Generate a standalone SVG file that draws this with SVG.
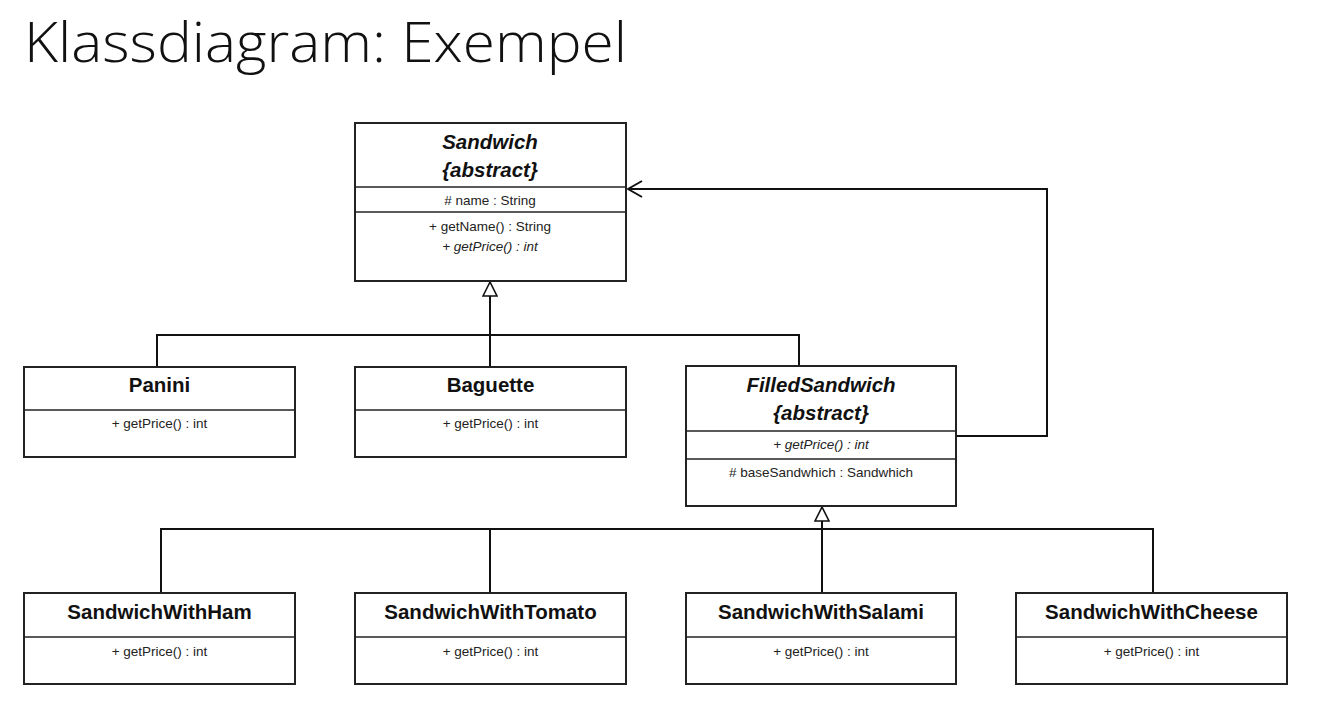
<svg xmlns="http://www.w3.org/2000/svg" width="1327" height="704" viewBox="0 0 1327 704">
<defs>
<style>
.box{fill:#fff;stroke:#222;stroke-width:2}
.div{stroke:#222;stroke-width:1.6}
.ln{fill:none;stroke:#111;stroke-width:2}
.nm{font-family:"Liberation Sans",Arial,sans-serif;font-weight:bold;font-size:20.5px;fill:#111;text-anchor:middle}
.it{font-style:italic}
.mb{font-family:"Liberation Sans",Arial,sans-serif;font-size:13.5px;fill:#222;text-anchor:middle}
.ttl{font-family:"Open Sans","Liberation Sans",sans-serif;font-size:56px;font-weight:300;fill:#111}
</style>
<marker id="gen" viewBox="0 0 16 16" refX="15" refY="8" markerWidth="16" markerHeight="16" markerUnits="userSpaceOnUse" orient="auto">
<path d="M15,8 L1,1 L1,15 Z" fill="#fff" stroke="#111" stroke-width="1.6"/>
</marker>
<marker id="open" viewBox="0 0 18 18" refX="17" refY="9" markerWidth="18" markerHeight="18" markerUnits="userSpaceOnUse" orient="auto">
<path d="M3,1 L17,9 L3,17" fill="none" stroke="#111" stroke-width="2"/>
</marker>
</defs>
<rect width="1327" height="704" fill="#fff"/>
<text class="ttl" x="24" y="62" textLength="603" lengthAdjust="spacingAndGlyphs">Klassdiagram: Exempel</text>

<g id="connectors">
<path class="ln" d="M157,366 V335 H799 V366"/>
<path class="ln" d="M490,366 V282" marker-end="url(#gen)"/>
<path class="ln" d="M161,593 V529 H1153 V593"/>
<path class="ln" d="M490,593 V529"/>
<path class="ln" d="M822,593 V507" marker-end="url(#gen)"/>
<path class="ln" d="M957,436 H1047 V189 H628" marker-end="url(#open)"/>
</g>

<g id="sandwich">
<rect class="box" x="355" y="123" width="271" height="158"/>
<line class="div" x1="355" y1="187" x2="626" y2="187"/>
<line class="div" x1="355" y1="212" x2="626" y2="212"/>
<text class="nm it" x="490" y="149">Sandwich</text>
<text class="nm it" x="490" y="177">{abstract}</text>
<text class="mb" x="490" y="205"># name : String</text>
<text class="mb" x="490" y="231">+ getName() : String</text>
<text class="mb it" x="490" y="251">+ getPrice() : int</text>
</g>

<g id="panini">
<rect class="box" x="24" y="367" width="271" height="90"/>
<line class="div" x1="24" y1="410" x2="295" y2="410"/>
<text class="nm" x="159.5" y="392">Panini</text>
<text class="mb" x="159.5" y="428">+ getPrice() : int</text>
</g>

<g id="baguette">
<rect class="box" x="355" y="367" width="271" height="90"/>
<line class="div" x1="355" y1="410" x2="626" y2="410"/>
<text class="nm" x="490.5" y="392">Baguette</text>
<text class="mb" x="490.5" y="428">+ getPrice() : int</text>
</g>

<g id="filledSandwich">
<rect class="box" x="686" y="366" width="270" height="140"/>
<line class="div" x1="686" y1="431" x2="956" y2="431"/>
<line class="div" x1="686" y1="459" x2="956" y2="459"/>
<text class="nm it" x="821" y="392">FilledSandwich</text>
<text class="nm it" x="821" y="420">{abstract}</text>
<text class="mb it" x="821" y="449">+ getPrice() : int</text>
<text class="mb" x="821" y="477"># baseSandwhich : Sandwhich</text>
</g>

<g id="sandwichWithHam">
<rect class="box" x="24" y="593" width="271" height="91"/>
<line class="div" x1="24" y1="637" x2="295" y2="637"/>
<text class="nm" x="159.5" y="619">SandwichWithHam</text>
<text class="mb" x="159.5" y="656">+ getPrice() : int</text>
</g>

<g id="sandwichWithTomato">
<rect class="box" x="355" y="593" width="271" height="91"/>
<line class="div" x1="355" y1="637" x2="626" y2="637"/>
<text class="nm" x="490.5" y="619">SandwichWithTomato</text>
<text class="mb" x="490.5" y="656">+ getPrice() : int</text>
</g>

<g id="sandwichWithSalami">
<rect class="box" x="686" y="593" width="270" height="91"/>
<line class="div" x1="686" y1="637" x2="956" y2="637"/>
<text class="nm" x="821" y="619">SandwichWithSalami</text>
<text class="mb" x="821" y="656">+ getPrice() : int</text>
</g>

<g id="sandwichWithCheese">
<rect class="box" x="1016" y="593" width="271" height="91"/>
<line class="div" x1="1016" y1="637" x2="1287" y2="637"/>
<text class="nm" x="1151.5" y="619">SandwichWithCheese</text>
<text class="mb" x="1151.5" y="656">+ getPrice() : int</text>
</g>
</svg>
